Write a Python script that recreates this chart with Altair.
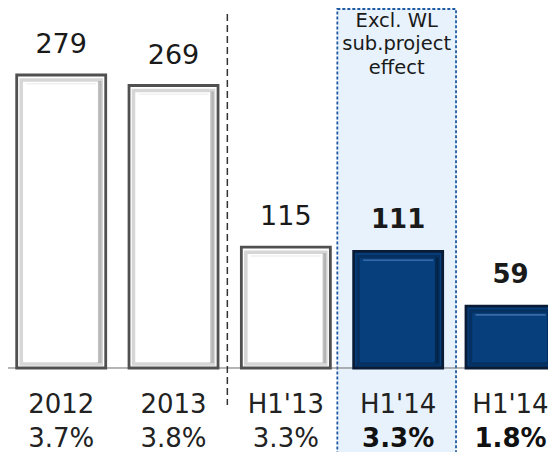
import altair as alt
import pandas as pd

# ---- data ----
keys = ["2012", "2013", "H1'13", "H1'14x", "H1'14"]
labels = ["2012", "2013", "H1'13", "H1'14", "H1'14"]
values = [279, 269, 115, 111, 59]
pcts = ["3.7%", "3.8%", "3.3%", "3.3%", "1.8%"]
kinds = ["white", "white", "white", "navy", "navy"]
bold = [False, False, False, True, True]
box_lines = ["Excl. WL", "sub.project", "effect"]

df = pd.DataFrame({"key": keys, "label": labels, "value": values,
                   "pct": pcts, "kind": kinds, "bold": bold})

FONT = "DejaVu Sans"
W, H = 540, 444

xs = alt.Scale(domain=keys, range=[8.7, 547], paddingInner=0.2075, paddingOuter=0)
ys = alt.Scale(domain=[-80, 342.8], nice=False, zero=False)
X = alt.X("key:N", scale=xs, axis=None, sort=keys)
Y = alt.Y("value:Q", scale=ys, axis=None)

base = alt.Chart(df)
IS_WHITE = "datum.kind == 'white'"


def by_kind(white, navy):
    return alt.condition(IS_WHITE, alt.value(white), alt.value(navy))


# highlight box
box = alt.Chart(pd.DataFrame({"key": ["H1'14x"]})).mark_bar(
    width=118.7, xOffset=-1.5, fill="#e8f2fc", stroke="#1f5ba3",
    strokeDash=[3, 2], strokeWidth=1.8
).encode(x=X, y=alt.value(1), y2=alt.value(470))

box_text = alt.Chart(pd.DataFrame({"key": ["H1'14x"], "t": [box_lines]})).mark_text(
    font=FONT, fontSize=19.5, lineHeight=23.5, baseline="alphabetic",
    align="center", xOffset=-1.5, color="#1a1a1a"
).encode(x=X, y=alt.value(18.7), text="t")

baseline = alt.Chart(pd.DataFrame({"v": [0]})).mark_rule(
    color="#6b6b6b", strokeWidth=1
).encode(y=alt.Y("v:Q", scale=ys, axis=None), x=alt.value(0), x2=alt.value(W))

bars = base.mark_bar(strokeWidth=2.8).encode(
    x=X, y=Y, y2=alt.datum(0),
    fill=by_kind("#ffffff", "#073f7d"),
    stroke=by_kind("#505050", "#0a1b36"),
)

# bevel frame
bevel = base.mark_bar(width=80, yOffset=5, y2Offset=-4, fillOpacity=0,
                      strokeWidth=3.5).encode(
    x=X, y=Y, y2=alt.datum(0),
    stroke=by_kind("#d6d6d6", "#05305f"),
)

# right-side shading
shade = base.mark_bar(width=3.5, xOffset=38.5, yOffset=6, y2Offset=-5).encode(
    x=X, y=Y, y2=alt.datum(0),
    fill=by_kind("#a6a6a6", "#031f40"),
    opacity=alt.value(0.7),
)

# top highlight line
hi = base.mark_bar(width=70, yOffset=8, y2Offset=9.6).encode(
    x=X, y=Y, y2=alt.Y2("value:Q"),
    fill=by_kind("#ececec", "#4676b0"),
    opacity=alt.value(0.8),
)

val_norm = base.transform_filter("!datum.bold").mark_text(
    font=FONT, fontSize=27, dy=-22, baseline="alphabetic", color="#1a1a1a"
).encode(x=X, y=Y, text="value:Q")
val_bold = base.transform_filter("datum.bold").mark_text(
    font=FONT, fontSize=26, fontWeight="bold", dy=-23, baseline="alphabetic",
    color="#1a1a1a"
).encode(x=X, y=Y, text="value:Q")

cat_text = base.mark_text(
    font=FONT, fontSize=26, baseline="alphabetic", color="#222222"
).encode(x=X, y=alt.value(405.3), text="label:N")

pct_norm = base.transform_filter("!datum.bold").mark_text(
    font=FONT, fontSize=26, baseline="alphabetic", color="#222222"
).encode(x=X, y=alt.value(439), text="pct:N")
pct_bold = base.transform_filter("datum.bold").mark_text(
    font=FONT, fontSize=26, fontWeight="bold", baseline="alphabetic",
    color="#111111"
).encode(x=X, y=alt.value(439), text="pct:N")

divider = alt.Chart(pd.DataFrame({"key": ["H1'13"]})).mark_rule(
    color="#333333", strokeWidth=1.5, strokeDash=[7, 4], xOffset=-14
).encode(x=alt.X("key:N", scale=xs, axis=None, bandPosition=0),
         y=alt.value(6), y2=alt.value(397))

chart = alt.layer(
    box, baseline, bars, bevel, shade, hi, val_norm, val_bold,
    box_text, cat_text, pct_norm, pct_bold, divider
).properties(
    width=W, height=H, padding=0, autosize=alt.AutoSizeParams(type="none"),
    background="white"
).configure_view(stroke=None)

chart.save("out.html", embed_options={"renderer": "svg", "actions": False})
